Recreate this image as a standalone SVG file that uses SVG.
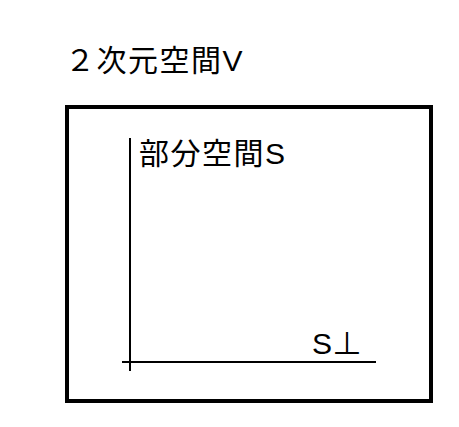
<svg xmlns="http://www.w3.org/2000/svg" width="459" height="427" viewBox="0 0 459 427">
<style>
text{font-family:"Liberation Sans","Noto Sans CJK JP",sans-serif;font-size:30px;letter-spacing:1.5px;fill:#000}
.ln{stroke:#000;stroke-width:2;fill:none}
</style>
<rect x="0" y="0" width="459" height="427" fill="#fff"/>
<g id="title"><text x="65" y="71">２次元空間V</text></g>
<g id="spaceV"><rect x="67" y="107" width="364" height="294" fill="none" stroke="#000" stroke-width="4"/></g>
<g id="connectors">
<line class="ln" x1="130" y1="138" x2="130" y2="371"/>
<line class="ln" x1="122" y1="362" x2="376" y2="362"/>
</g>
<g id="subspaceS"><text x="139" y="164">部分空間S</text></g>
<g id="Sperp"><text x="312" y="354" style="letter-spacing:0">S⊥</text></g>
</svg>
